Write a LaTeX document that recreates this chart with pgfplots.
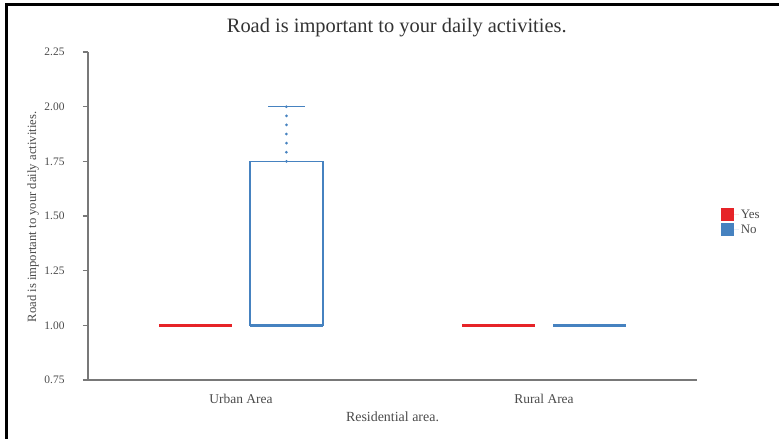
\documentclass[border=0pt]{standalone}
\usepackage{fontspec}
\setmainfont{Liberation Serif}
\usepackage{pgfplots}
\pgfplotsset{compat=1.18}
\usepgfplotslibrary{statistics}
\definecolor{yesred}{RGB}{230,35,40}
\definecolor{noblue}{RGB}{70,130,192}
\definecolor{axgray}{RGB}{120,120,120}
\definecolor{txtgray}{RGB}{75,75,75}
\begin{document}
\begin{tikzpicture}
\useasboundingbox (0,0) rectangle (779bp,439bp);
\fill[white] (0,0) rectangle (779bp,439bp);
% frame of the screenshot
\draw[line width=3bp] (6bp,0) -- (6bp,434bp) -- (779bp,434bp);
\begin{axis}[
    at={(88bp,59bp)}, anchor=south west,
    scale only axis, width=609bp, height=328bp,
    xmin=-0.505, xmax=1.505, ymin=0.75, ymax=2.25,
    axis x line*=bottom, axis y line*=left,
    axis line style={axgray, line width=1.3bp},
    xtick={0,1}, xticklabels={Urban Area, Rural Area},
    major x tick style={draw=none},
    ytick={0.75,1.00,1.25,1.50,1.75,2.00,2.25},
    /pgf/number format/fixed, /pgf/number format/fixed zerofill,
    /pgf/number format/precision=2, /pgf/number format/assume math mode=true,
    major y tick style={axgray, line width=1.2bp},
    tick align=outside, major tick length=5bp,
    yticklabel style={font=\fontsize{11.5}{12}\selectfont, text=txtgray, xshift=-15bp},
    xticklabel style={font=\fontsize{13.5}{14}\selectfont, text=txtgray, yshift=-6bp},
    title={Road is important to your daily activities.},
    title style={font=\fontsize{20.5}{22}\selectfont, text=black!80, at={(0.507,1.055)}, anchor=center},
    xlabel={Residential area.},
    xlabel style={font=\fontsize{14}{15}\selectfont, text=txtgray, at={(0.5,-0.113)}, anchor=center},
    ylabel={Road is important to your daily activities.},
    ylabel style={font=\fontsize{12.7}{14}\selectfont, text=txtgray, at={(-0.090,0.497)}, anchor=center},
    legend style={at={(1.034,0.532)}, anchor=north west, draw=none, fill=none,
        font=\fontsize{13}{13}\selectfont, text=txtgray, row sep=1bp, cells={anchor=west}},
    legend image code/.code={\path[#1, draw=none] (0bp,-6.3bp) rectangle (13bp,6.3bp);
        \path (13bp,0) -- (18bp,0);},
    boxplot/draw direction=y,
    boxplot/draw/upper whisker/.code={%
        \draw[dash pattern=on 0bp off 9.1bp, line cap=round, line width=3bp]
            (boxplot box cs:\pgfplotsboxplotvalue{upper quartile},0.5) --
            (boxplot box cs:\pgfplotsboxplotvalue{upper whisker},0.5);
        \draw (boxplot whisker cs:\pgfplotsboxplotvalue{upper whisker},0) --
            (boxplot whisker cs:\pgfplotsboxplotvalue{upper whisker},1);
    },
]
\addlegendimage{fill=yesred, draw=none}
\addlegendentry{Yes}
\addlegendimage{fill=noblue, draw=none}
\addlegendentry{No}

% Urban Area
\addplot[yesred, line width=2.8bp, forget plot,
    boxplot prepared={draw position=-0.15, box extend=0.24, whisker extend=0.12,
    lower whisker=1, lower quartile=1, median=1, upper quartile=1, upper whisker=1}]
    coordinates {};
\addplot[noblue, line width=1.6bp, forget plot,
    boxplot/every median/.style={line width=2.4bp},
    boxplot prepared={draw position=0.15, box extend=0.24, whisker extend=0.12,
    lower whisker=1, lower quartile=1, median=1, upper quartile=1.75, upper whisker=2}]
    coordinates {};
% Rural Area
\addplot[yesred, line width=2.8bp, forget plot,
    boxplot prepared={draw position=0.85, box extend=0.24, whisker extend=0.12,
    lower whisker=1, lower quartile=1, median=1, upper quartile=1, upper whisker=1}]
    coordinates {};
\addplot[noblue, line width=2.6bp, forget plot,
    boxplot prepared={draw position=1.15, box extend=0.24, whisker extend=0.12,
    lower whisker=1, lower quartile=1, median=1, upper quartile=1, upper whisker=1}]
    coordinates {};
\end{axis}
\end{tikzpicture}
\end{document}
